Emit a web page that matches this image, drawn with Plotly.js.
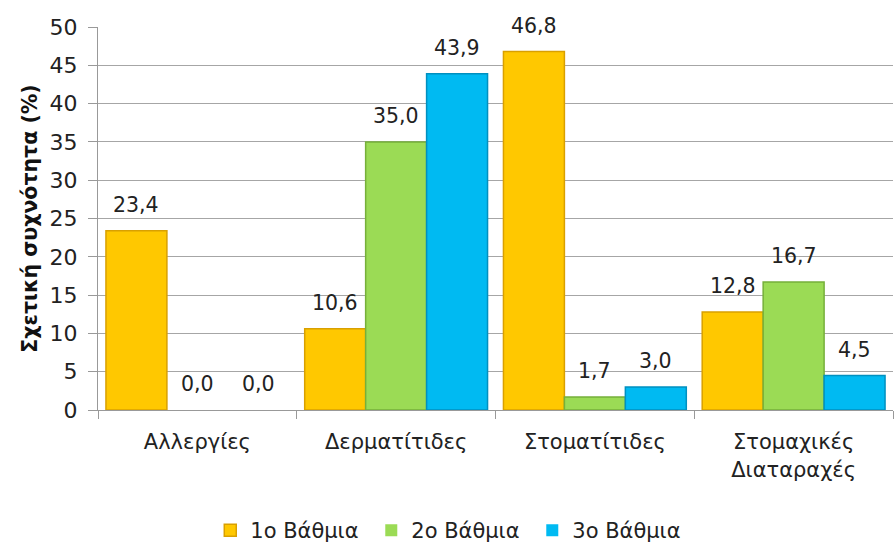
<!DOCTYPE html>
<html>
<head>
<meta charset="utf-8">
<script src="https://cdn.plot.ly/plotly-3.0.1.min.js"></script>
<style>html,body{margin:0;padding:0;background:#fff}#chart{width:895px;height:544px}</style>
</head>
<body>
<div id="chart"></div>
<script>
const categories = ["Αλλεργίες", "Δερματίτιδες", "Στοματίτιδες", "Στομαχικές<br>Διαταραχές"];
const seriesNames = ["1ο Βάθμια", "2ο Βάθμια", "3ο Βάθμια"];
const grade1 = [23.4, 10.6, 46.8, 12.8];
const grade2 = [0.0, 35.0, 1.7, 16.7];
const grade3 = [0.0, 43.9, 3.0, 4.5];
const yTicks = [0, 5, 10, 15, 20, 25, 30, 35, 40, 45, 50];

const fillColors = ["#FFC800", "#9BDB55", "#00BAF2"];
const edgeColors = ["#D9A000", "#76B03A", "#0090C0"];
const FONT = "'DejaVu Sans', 'Open Sans', sans-serif";

const fmt = v => v.toFixed(1).replace('.', ',');
const allSeries = [grade1, grade2, grade3];
const traces = allSeries.map((vals, i) => ({
  type: 'bar',
  name: seriesNames[i],
  x: categories,
  y: vals,
  marker: {color: fillColors[i], line: {color: edgeColors[i], width: vals.map(v => v > 0 ? 1.5 : 0)}}
}));

// data labels, placed like Excel's (offset above the bar)
const BAR_PX = 61;
const annotations = [];
allSeries.forEach((vals, i) => {
  vals.forEach((v, j) => {
    annotations.push({
      x: categories[j], y: v, xref: 'x', yref: 'y',
      text: fmt(v), showarrow: false,
      xanchor: 'center', yanchor: 'middle',
      xshift: (i - 1) * BAR_PX, yshift: 26,
      font: {family: FONT, size: 20.5, color: '#222'}
    });
  });
});

const layout = {
  width: 895, height: 544,
  margin: {l: 98, r: 2, t: 27, b: 134, autoexpand: false},
  paper_bgcolor: '#fff', plot_bgcolor: '#fff',
  barmode: 'group', bargap: 0.08, bargroupgap: 0,
  font: {family: FONT, size: 20, color: '#222'},
  annotations: annotations,
  xaxis: {
    type: 'category',
    tickson: 'boundaries',
    ticks: 'outside', ticklen: 8, tickcolor: '#999',
    showline: true, linecolor: '#999', linewidth: 1,
    showgrid: false,
    automargin: false,
    ticklabelstandoff: 13,
    tickfont: {family: FONT, size: 21, color: '#222'}
  },
  yaxis: {
    range: [0, 50],
    tickvals: yTicks,
    ticks: 'outside', ticklen: 9, tickcolor: '#999',
    showline: true, linecolor: '#999', linewidth: 1,
    gridcolor: '#A6A6A6', gridwidth: 1,
    zeroline: false,
    automargin: false,
    ticklabelstandoff: 6,
    tickfont: {family: FONT, size: 22, color: '#222'},
    title: {text: 'Σχετική συχνότητα (%)', font: {family: FONT, size: 20.5, color: '#111', weight: 'bold'}, standoff: 6}
  },
  legend: {
    orientation: 'h', x: 0.445, xanchor: 'center', y: -0.315, yanchor: 'middle',
    font: {family: FONT, size: 21, color: '#222'},
    entrywidth: 116, entrywidthmode: 'pixels',
    itemwidth: 30
  },
  showlegend: true
};

Plotly.newPlot('chart', traces, layout, {displayModeBar: false, staticPlot: true});
</script>
</body>
</html>
